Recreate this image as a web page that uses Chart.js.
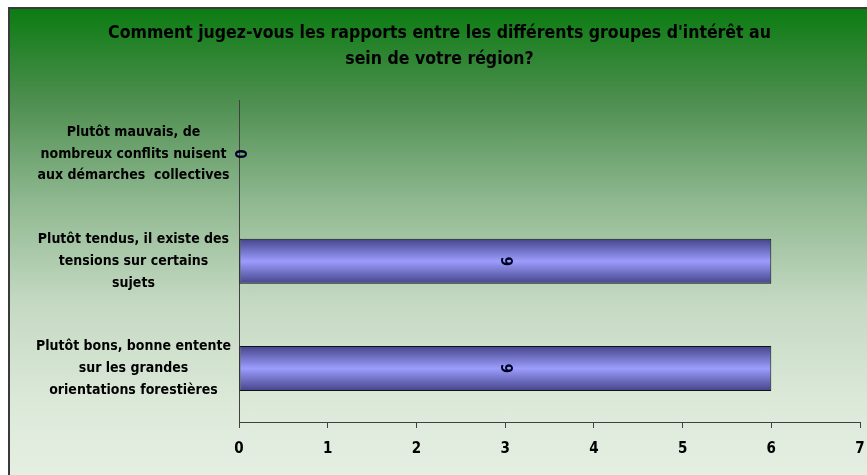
<!DOCTYPE html>
<html>
<head>
<meta charset="utf-8">
<script src="https://cdn.jsdelivr.net/npm/chart.js@4.4.0/dist/chart.umd.min.js"></script>
<style>
  html, body { margin: 0; padding: 0; background: #fff; }
  #bg {
    position: absolute; left: 8px; top: 7px; width: 870px; height: 480px;
    border-left: 2px solid #3a3a3a; border-top: 2px solid #3a3a3a;
    background: linear-gradient(to bottom, #0c7c12 0%, #4d8e4f 19%, #8fb890 40%, #c4d9c2 61%, #dce9d9 82%, #e6f0e3 100%);
  }
  #wrap { position: absolute; left: 0; top: 0; width: 867px; height: 475px; }
</style>
</head>
<body>
<div id="bg"></div>
<div id="wrap"><canvas id="chart" width="867" height="475"></canvas></div>
<script>
var categories = [
    ["Plutôt mauvais, de", "nombreux conflits nuisent", "aux démarches  collectives"],
    ["Plutôt tendus, il existe des", "tensions sur certains", "sujets"],
    ["Plutôt bons, bonne entente", "sur les grandes", "orientations forestières"]
];
var responses = [0, 6, 6];
var titleLines = [
    "Comment jugez-vous les rapports entre les différents groupes d'intérêt au",
    "sein de votre région?"
];

var FONT = "'Liberation Sans Narrow', 'DejaVu Sans Condensed', sans-serif";

function barGradient(context) {
    var chart = context.chart;
    var area = chart.chartArea;
    if (!area || !chart.scales.y) return "#9999ff";
    var yc = chart.scales.y.getPixelForValue(context.dataIndex);
    var half = (area.bottom - area.top) / categories.length * 0.42 / 2;
    var g = chart.ctx.createLinearGradient(0, yc - half, 0, yc + half);
    g.addColorStop(0, "#44448a");
    g.addColorStop(0.5, "#9c9cfd");
    g.addColorStop(1, "#44448a");
    return g;
}

// value labels, rotated like in the original
var valueLabels = {
    id: "valueLabels",
    afterDatasetsDraw: function (chart) {
        var ctx = chart.ctx;
        var meta = chart.getDatasetMeta(0);
        ctx.save();
        ctx.font = "bold 15px " + FONT;
        ctx.fillStyle = "#000022";
        ctx.textAlign = "center";
        ctx.textBaseline = "middle";
        meta.data.forEach(function (bar, i) {
            var x = (bar.x + bar.base) / 2 + 4;
            ctx.save();
            ctx.translate(x, bar.y);
            ctx.rotate(-Math.PI / 2);
            ctx.fillText(String(responses[i]), 0, 0);
            ctx.restore();
        });
        ctx.restore();
    }
};

document.addEventListener("DOMContentLoaded", function () {
    var ctx = document.getElementById("chart").getContext("2d");
    new Chart(ctx, {
        type: "bar",
        data: {
            labels: categories,
            datasets: [{
                data: responses,
                backgroundColor: barGradient,
                borderColor: "#111111",
                borderWidth: 1,
                borderSkipped: false,
                barPercentage: 0.42,
                categoryPercentage: 1
            }]
        },
        options: {
            indexAxis: "y",
            responsive: false,
            animation: false,
            layout: { padding: { left: 12, right: 0, top: 0, bottom: 9 } },
            plugins: {
                legend: { display: false },
                tooltip: { enabled: false },
                title: {
                    display: true,
                    text: titleLines,
                    color: "#000000",
                    font: { family: FONT, size: 17.5, weight: "bold", lineHeight: 1.5 },
                    padding: { top: 20, bottom: 28 }
                }
            },
            scales: {
                x: {
                    min: 0,
                    max: 7,
                    ticks: {
                        stepSize: 1,
                        color: "#000000",
                        padding: 12,
                        font: { family: FONT, size: 15, weight: "bold" }
                    },
                    grid: {
                        drawOnChartArea: false,
                        drawTicks: true,
                        tickLength: 6,
                        color: "#404040"
                    },
                    border: { display: true, color: "#404040", width: 1 },
                    afterFit: function (scale) {
                        scale.height = 44;
                        scale.paddingRight = 7;
                    }
                },
                y: {
                    ticks: {
                        color: "#000000",
                        crossAlign: "center",
                        padding: 8,
                        font: { family: FONT, size: 14, weight: "bold", lineHeight: 1.55 }
                    },
                    grid: { display: false, drawTicks: false },
                    border: { display: true, color: "#404040", width: 1 },
                    afterFit: function (scale) { scale.width = 227; }
                }
            }
        },
        plugins: [valueLabels]
    });
});
</script>
</body>
</html>
